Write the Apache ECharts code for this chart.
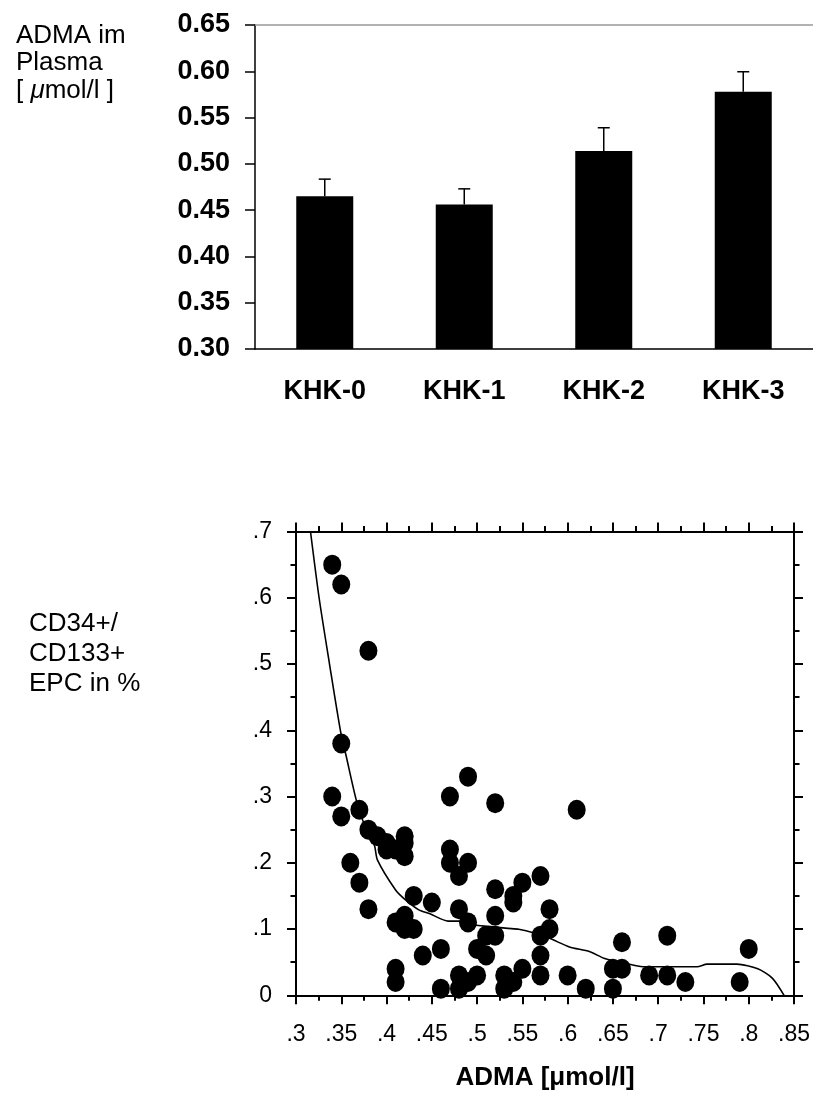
<!DOCTYPE html>
<html><head><meta charset="utf-8">
<script src="https://cdn.jsdelivr.net/npm/echarts@6/dist/echarts.min.js"></script>
<style>html,body{margin:0;padding:0;background:#fff}#c{width:813px;height:1093px}</style>
</head><body><div id="c"></div>
<script>
// ---- top chart data ----
const categories = ['KHK-0', 'KHK-1', 'KHK-2', 'KHK-3'];
const admaMeans = [0.465, 0.456, 0.514, 0.578];
const admaErrors = [0.0185, 0.017, 0.025, 0.0215];

// ---- scatter data ----
const scatterAdma = [0.34, 0.35, 0.38, 0.35, 0.49, 0.34, 0.35, 0.37, 0.36, 0.37, 0.38, 0.38, 0.39, 0.40, 0.40, 0.41, 0.42, 0.42, 0.42,
  0.43, 0.45, 0.41, 0.42, 0.42, 0.43, 0.44, 0.46, 0.41, 0.41, 0.46, 0.47, 0.52, 0.47, 0.47, 0.49, 0.48, 0.48, 0.49, 0.52, 0.52,
  0.51, 0.52, 0.50, 0.51, 0.50, 0.48, 0.49, 0.48, 0.53, 0.53, 0.54, 0.55, 0.54, 0.54, 0.55, 0.57, 0.58, 0.58, 0.57, 0.57, 0.57,
  0.60, 0.62, 0.61, 0.65, 0.65, 0.66, 0.66, 0.69, 0.71, 0.71, 0.73, 0.79, 0.80];
const scatterEpc = [0.65, 0.62, 0.52, 0.38, 0.33, 0.30, 0.27, 0.28, 0.20, 0.17, 0.13, 0.25, 0.24, 0.23, 0.22, 0.22, 0.24, 0.21, 0.23,
  0.15, 0.14, 0.11, 0.12, 0.10, 0.10, 0.06, 0.07, 0.04, 0.02, 0.01, 0.30, 0.29, 0.22, 0.20, 0.20, 0.18, 0.13, 0.11, 0.16, 0.12,
  0.09, 0.09, 0.07, 0.06, 0.03, 0.03, 0.02, 0.01, 0.03, 0.01, 0.02, 0.04, 0.15, 0.14, 0.17, 0.18, 0.13, 0.10, 0.09, 0.06, 0.03,
  0.03, 0.01, 0.28, 0.04, 0.01, 0.04, 0.08, 0.03, 0.03, 0.09, 0.02, 0.02, 0.07];

// ---- fitted curve ----
const fitAdma = [0.316, 0.3255, 0.337, 0.349, 0.3556, 0.3665, 0.3756, 0.3865, 0.39, 0.41, 0.421, 0.4356, 0.448, 0.468, 0.483,
  0.4975, 0.512, 0.534, 0.546, 0.563, 0.58, 0.602, 0.624, 0.64, 0.654, 0.671, 0.685, 0.743, 0.754, 0.787, 0.81, 0.826, 0.839];
const fitEpc = [0.70, 0.60, 0.50, 0.40, 0.36, 0.295, 0.257, 0.227, 0.204, 0.159, 0.144, 0.129, 0.123, 0.112, 0.112,
  0.106, 0.104, 0.101, 0.0996, 0.094, 0.086, 0.073, 0.066, 0.056, 0.051, 0.046, 0.043, 0.043, 0.047, 0.047, 0.040, 0.026, 0.0];

const SANS = '"Liberation Sans", Arial, sans-serif';

function dotFmt(v) {
  const s = (Math.round(v * 100) / 100).toString();
  return s === '0' ? '0' : s.replace(/^0\./, '.');
}

const chart = echarts.init(document.getElementById('c'), null, { renderer: 'canvas' });

const blackLine = { color: '#000', width: 2 };

chart.setOption({
  animation: false,
  backgroundColor: '#fff',
  grid: [
    { left: 255, top: 25, width: 558, height: 324 },
    { left: 296, top: 531.5, width: 503.5, height: 463.8 }
  ],
  xAxis: [
    {
      gridIndex: 0, type: 'category', data: categories,
      axisLine: { lineStyle: { color: '#000', width: 1.5 } },
      axisTick: { length: 9, lineStyle: { color: '#000', width: 1.5 } },
      axisLabel: { color: '#000', fontFamily: SANS, fontWeight: 'bold', fontSize: 27, margin: 29 }
    },
    {
      gridIndex: 0, type: 'category', position: 'top', data: categories,
      axisLine: { lineStyle: { color: '#999', width: 1.5 } },
      axisTick: { show: false }, axisLabel: { show: false }
    },
    {
      gridIndex: 1, type: 'value', min: 0.3, max: 0.85, interval: 0.05, position: 'bottom',
      axisLine: { show: true, onZero: false, lineStyle: blackLine },
      axisTick: { show: true, length: 9, lineStyle: blackLine },
      minorTick: { show: true, splitNumber: 2, length: 5.5, lineStyle: blackLine },
      splitLine: { show: false },
      axisLabel: { color: '#000', fontFamily: SANS, fontSize: 23, margin: 28, formatter: dotFmt },
      name: 'ADMA [μmol/l]', nameLocation: 'middle', nameGap: 70,
      nameTextStyle: { color: '#000', fontFamily: SANS, fontWeight: 'bold', fontSize: 26 }
    },
    {
      gridIndex: 1, type: 'value', min: 0.3, max: 0.85, interval: 0.05, position: 'top',
      axisLine: { show: true, onZero: false, lineStyle: blackLine },
      axisTick: { show: true, length: 9, lineStyle: blackLine },
      minorTick: { show: true, splitNumber: 2, length: 5.5, lineStyle: blackLine },
      splitLine: { show: false }, axisLabel: { show: false }
    }
  ],
  yAxis: [
    {
      gridIndex: 0, type: 'value', min: 0.3, max: 0.65, interval: 0.05,
      axisLine: { show: true, lineStyle: { color: '#000', width: 1.5 } },
      axisTick: { show: true, length: 10, lineStyle: { color: '#000', width: 1.5 } },
      splitLine: { show: false },
      axisLabel: { color: '#000', fontFamily: SANS, fontWeight: 'bold', fontSize: 27, margin: 25,
        formatter: v => v.toFixed(2) }
    },
    {
      gridIndex: 1, type: 'value', min: 0, max: 0.7, interval: 0.1, position: 'left',
      axisLine: { show: true, onZero: false, lineStyle: blackLine },
      axisTick: { show: true, length: 9, lineStyle: blackLine },
      minorTick: { show: true, splitNumber: 2, length: 5.5, lineStyle: blackLine },
      splitLine: { show: false },
      axisLabel: { color: '#000', fontFamily: SANS, fontSize: 23, margin: 24, formatter: dotFmt }
    },
    {
      gridIndex: 1, type: 'value', min: 0, max: 0.7, interval: 0.1, position: 'right',
      axisLine: { show: true, onZero: false, lineStyle: blackLine },
      axisTick: { show: true, length: 9, lineStyle: blackLine },
      minorTick: { show: true, splitNumber: 2, length: 5.5, lineStyle: blackLine },
      splitLine: { show: false }, axisLabel: { show: false }
    }
  ],
  series: [
    {
      type: 'bar', xAxisIndex: 0, yAxisIndex: 0, data: admaMeans, barWidth: 57,
      itemStyle: { color: '#000' }
    },
    {
      type: 'custom', xAxisIndex: 0, yAxisIndex: 0, z: 3,
      data: categories.map((c, i) => [i, admaMeans[i], admaMeans[i] + admaErrors[i]]),
      encode: { x: 0, y: [1, 2] },
      renderItem: function (params, api) {
        const base = api.coord([api.value(0), api.value(1)]);
        const top = api.coord([api.value(0), api.value(2)]);
        return {
          type: 'group',
          children: [
            { type: 'line', shape: { x1: base[0], y1: base[1], x2: top[0], y2: top[1] }, style: { stroke: '#000', lineWidth: 1.5 } },
            { type: 'line', shape: { x1: top[0] - 6, y1: top[1], x2: top[0] + 6, y2: top[1] }, style: { stroke: '#000', lineWidth: 1.5 } }
          ]
        };
      }
    },
    {
      type: 'line', xAxisIndex: 2, yAxisIndex: 1, z: 2,
      data: fitAdma.map((x, i) => [x, fitEpc[i]]),
      showSymbol: false, smooth: 0.25,
      lineStyle: { color: '#000', width: 1.6 }
    },
    {
      type: 'scatter', xAxisIndex: 2, yAxisIndex: 1, z: 3,
      data: scatterAdma.map((x, i) => [x, scatterEpc[i]]),
      symbol: 'circle', symbolSize: [18, 20],
      itemStyle: { color: '#000', opacity: 1 }
    }
  ],
  graphic: [
    { type: 'text', style: { x: 16, y: 36, text: 'ADMA im', font: '26px ' + SANS, fill: '#000', verticalAlign: 'middle' } },
    { type: 'text', style: { x: 16, y: 63, text: 'Plasma', font: '26px ' + SANS, fill: '#000', verticalAlign: 'middle' } },
    { type: 'text', style: { x: 16, y: 91, text: '[ {i|μ}mol/l ]', font: '26px ' + SANS, fill: '#000', verticalAlign: 'middle',
      rich: { i: { fontStyle: 'italic', fontSize: 26, fontFamily: SANS, fill: '#000' } } } },
    { type: 'text', style: { x: 29, y: 624, text: 'CD34+/', font: '26px ' + SANS, fill: '#000', verticalAlign: 'middle' } },
    { type: 'text', style: { x: 29, y: 654, text: 'CD133+', font: '26px ' + SANS, fill: '#000', verticalAlign: 'middle' } },
    { type: 'text', style: { x: 29, y: 684, text: 'EPC in %', font: '26px ' + SANS, fill: '#000', verticalAlign: 'middle' } }
  ]
});
</script>
</body></html>
